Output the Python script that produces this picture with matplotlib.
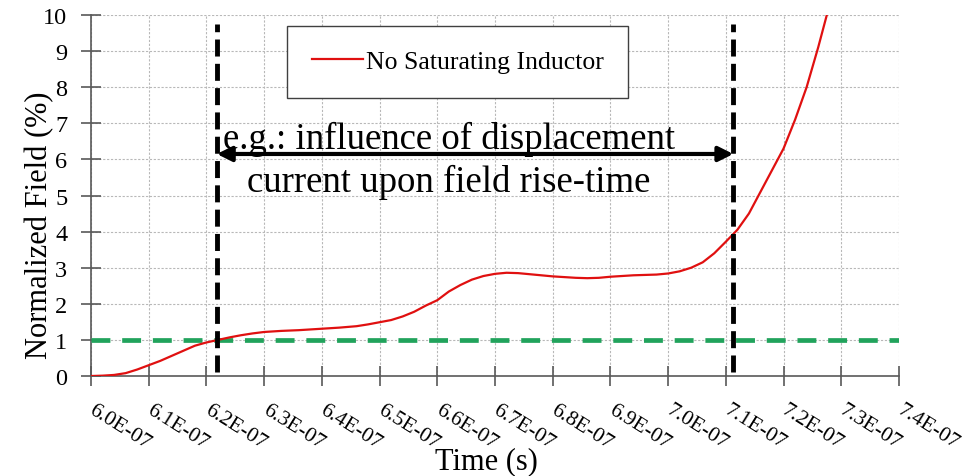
import matplotlib
matplotlib.use("Agg")
import matplotlib.pyplot as plt
import matplotlib.transforms as mtransforms
from matplotlib.ticker import FuncFormatter, MultipleLocator

plt.rcParams['font.family'] = ['Liberation Serif', 'DejaVu Serif']

# ---- data ----
time_s = [6.00e-7, 6.02e-7, 6.04e-7, 6.06e-7, 6.08e-7, 6.10e-7, 6.12e-7, 6.14e-7, 6.16e-7, 6.18e-7,
          6.20e-7, 6.22e-7, 6.24e-7, 6.26e-7, 6.28e-7, 6.30e-7, 6.33e-7, 6.36e-7, 6.40e-7, 6.43e-7,
          6.46e-7, 6.48e-7, 6.50e-7, 6.52e-7, 6.54e-7, 6.56e-7, 6.58e-7, 6.60e-7, 6.61e-7, 6.62e-7,
          6.64e-7, 6.66e-7, 6.68e-7, 6.70e-7, 6.72e-7, 6.74e-7, 6.76e-7, 6.78e-7, 6.80e-7, 6.82e-7,
          6.84e-7, 6.86e-7, 6.88e-7, 6.90e-7, 6.92e-7, 6.94e-7, 6.96e-7, 6.98e-7, 7.00e-7, 7.02e-7,
          7.04e-7, 7.06e-7, 7.08e-7, 7.10e-7, 7.12e-7, 7.14e-7, 7.16e-7, 7.18e-7, 7.20e-7, 7.22e-7,
          7.24e-7, 7.26e-7, 7.28e-7]
field_pct = [0.00, 0.01, 0.03, 0.08, 0.18, 0.30, 0.42, 0.56, 0.70, 0.84,
             0.93, 1.00, 1.07, 1.13, 1.18, 1.22, 1.25, 1.27, 1.31, 1.34,
             1.38, 1.43, 1.49, 1.55, 1.65, 1.78, 1.95, 2.10, 2.22, 2.34,
             2.52, 2.67, 2.77, 2.83, 2.86, 2.85, 2.82, 2.79, 2.76, 2.74,
             2.72, 2.71, 2.72, 2.75, 2.77, 2.79, 2.80, 2.81, 2.84, 2.90,
             3.00, 3.15, 3.40, 3.72, 4.05, 4.50, 5.10, 5.70, 6.30, 7.10,
             8.00, 9.10, 10.30]
series_label = "No Saturating Inductor"
threshold_level = 1.0
marker_times = [6.218e-7, 7.113e-7]
arrow_level = 6.15
annotation_lines = ["e.g.: influence of displacement", "current upon field rise-time"]
x_label = "Time (s)"
y_label = "Normalized Field (%)"

fig = plt.figure(figsize=(9.8, 4.77), dpi=100)
ax = fig.add_axes([0.0929, 0.2096, 0.8244, 0.7569])

ax.set_xlim(6.0e-7, 7.4e-7)
ax.set_ylim(0, 10)
ax.xaxis.set_major_locator(MultipleLocator(1e-8))
ax.yaxis.set_major_locator(MultipleLocator(1))
ax.xaxis.set_major_formatter(FuncFormatter(lambda v, p: f"{v:.1E}"))

ax.grid(True, color='#b8b8b8', linestyle=(0, (2, 1.5)), linewidth=0.8)
ax.set_axisbelow(True)

for s in ['top', 'right']:
    ax.spines[s].set_visible(False)
for s in ['left', 'bottom']:
    ax.spines[s].set_color('#595959')
    ax.spines[s].set_linewidth(1.2)

ax.tick_params(axis='both', direction='inout', length=14, width=1.2, color='#595959')
ax.tick_params(axis='y', labelsize=17.5, pad=10)
ax.tick_params(axis='x', labelsize=15.5, pad=10)
offset = mtransforms.ScaledTranslation(5 / 100, 0, fig.dpi_scale_trans)
for lbl in ax.get_xticklabels():
    lbl.set_rotation(-32)
    lbl.set_rotation_mode('anchor')
    lbl.set_ha('left')
    lbl.set_va('top')
    lbl.set_transform(lbl.get_transform() + offset)

# green threshold line
ax.axhline(threshold_level, color='#21a35c', linewidth=3.4, linestyle=(0, (4, 2.5)), zorder=3)

# red curve
ax.plot(time_s, field_pct, color='#e01010', linewidth=1.6, label=series_label, zorder=4)

# black dashed markers
for t in marker_times:
    ax.vlines(t, 0.1, 9.75, color='black', linewidth=3.5, linestyles=(0, (3.5, 1.5)), zorder=5)

# double arrow
ax.annotate('', xy=(marker_times[0], arrow_level), xytext=(marker_times[1], arrow_level),
            arrowprops=dict(arrowstyle='<|-|>', color='black', lw=3, mutation_scale=22,
                            shrinkA=0, shrinkB=0), zorder=6)

xc = 6.62e-7
ax.text(xc, 6.58, annotation_lines[0], ha='center', va='center', fontsize=26.5, zorder=7)
ax.text(xc, 5.40, annotation_lines[1], ha='center', va='center', fontsize=26.5, zorder=7)

leg = ax.legend(loc='upper left', bbox_to_anchor=(0.243, 0.97), fontsize=18.5, frameon=True,
                fancybox=False, edgecolor='#404040', framealpha=1, handlelength=2.0,
                handletextpad=0.1, borderpad=0.95, borderaxespad=0)
leg.get_frame().set_linewidth(1.0)
leg.set_zorder(8)

ax.set_xlabel(x_label, fontsize=22)
ax.set_ylabel(y_label, fontsize=22)
ax.xaxis.set_label_coords(0.49, -0.195)
ax.yaxis.set_label_coords(-0.045, 0.42)

fig.savefig('out.png', dpi=100)
